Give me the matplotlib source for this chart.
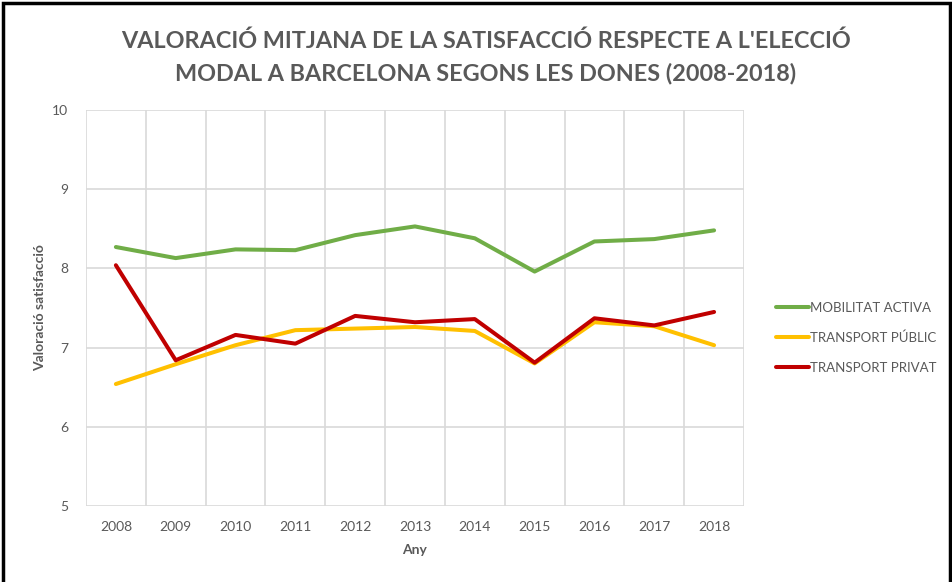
import matplotlib.pyplot as plt
from matplotlib.patches import Rectangle

plt.rcParams['font.family'] = ['Lato', 'DejaVu Sans']

# Dades llegides del gràfic
anys = ['2008', '2009', '2010', '2011', '2012', '2013', '2014', '2015', '2016', '2017', '2018']
mobilitat_activa = [8.27, 8.13, 8.24, 8.23, 8.42, 8.53, 8.38, 7.96, 8.34, 8.37, 8.48]
transport_public = [6.54, 6.79, 7.03, 7.22, 7.24, 7.26, 7.21, 6.80, 7.32, 7.27, 7.03]
transport_privat = [8.04, 6.84, 7.16, 7.05, 7.40, 7.32, 7.36, 6.81, 7.37, 7.28, 7.45]
series_noms = ['MOBILITAT ACTIVA', 'TRANSPORT PÚBLIC', 'TRANSPORT PRIVAT']
colors = ['#70AD47', '#FFC000', '#C00000']

gris = '#595959'
fig = plt.figure(figsize=(9.52, 5.82), dpi=100)
ax = fig.add_axes([0.0903, 0.1306, 0.6912, 0.6804])

x = list(range(len(anys)))
for vals, nom, c in zip([mobilitat_activa, transport_public, transport_privat], series_noms, colors):
    ax.plot(x, vals, color=c, lw=2.9, label=nom, solid_capstyle='round', solid_joinstyle='round')

ax.set_xlim(-0.5, len(anys) - 0.5)
ax.set_ylim(5, 10)
ax.set_yticks([5, 6, 7, 8, 9, 10])
ax.set_xticks(x)
ax.set_xticklabels(anys)
ax.set_xticks([i - 0.5 for i in range(len(anys) + 1)], minor=True)
ax.grid(which='minor', axis='x', color='#D9D9D9', lw=1.2)
ax.grid(which='major', axis='y', color='#D9D9D9', lw=1.2)
ax.set_axisbelow(True)
for s in ax.spines.values():
    s.set_visible(False)
ax.tick_params(which='both', length=0)
ax.tick_params(axis='both', labelsize=10, labelcolor=gris)
ax.tick_params(axis='x', pad=11)
ax.tick_params(axis='y', pad=13)

ax.set_xlabel('Any', fontsize=10, fontweight='bold', color=gris, labelpad=8)
ax.set_ylabel('Valoració satisfacció', fontsize=10, fontweight='bold', color=gris, labelpad=4)

fig.text(0.51, 0.902, "VALORACIÓ MITJANA DE LA SATISFACCIÓ RESPECTE A L'ELECCIÓ\nMODAL A BARCELONA SEGONS LES DONES (2008-2018)",
         ha='center', va='center', fontsize=16.8, fontweight='bold', color=gris, linespacing=1.6)

leg = ax.legend(loc='center left', bbox_to_anchor=(1.038, 0.425), frameon=False, fontsize=9.5,
                handlelength=2.5, handletextpad=0.1, labelspacing=1.35, borderpad=0)
for t in leg.get_texts():
    t.set_color(gris)

fig.patches.append(Rectangle((0.003, -0.01), 0.995, 1.005, transform=fig.transFigure,
                             fill=False, edgecolor='black', lw=2.5))

fig.savefig('out.png', dpi=100)
